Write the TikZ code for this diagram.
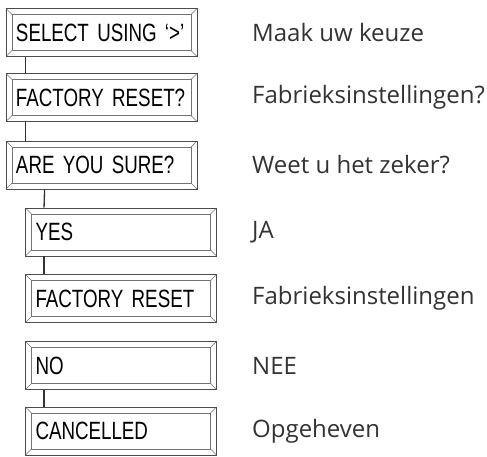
\documentclass[tikz,border=0pt]{standalone}
\usepackage{fontspec}
\newfontfamily\boxfont[FakeStretch=0.75]{Liberation Sans}
\newfontfamily\descfont{Open Sans}
\begin{document}
\begin{tikzpicture}[x=1pt,y=-1pt,
  lcd/.style={draw=black!70, line width=0.9pt, minimum width=191pt, minimum height=48pt,
    inner xsep=10pt, inner ysep=0pt, text width=171pt, align=left,
    font=\boxfont\fontsize{25}{25}\selectfont,
    path picture={
      \coordinate (nw) at (path picture bounding box.north west);
      \coordinate (se) at (path picture bounding box.south east);
      \coordinate (ne) at (path picture bounding box.north east);
      \coordinate (sw) at (path picture bounding box.south west);
      \draw[black!55, line width=0.7pt] ([shift={(6pt,-6pt)}]nw) rectangle ([shift={(-6pt,6pt)}]se);
      \draw[black!55, line width=0.6pt] (nw) -- ([shift={(6pt,-6pt)}]nw)
        (ne) -- ([shift={(-6pt,-6pt)}]ne)
        (sw) -- ([shift={(6pt,6pt)}]sw)
        (se) -- ([shift={(-6pt,6pt)}]se);
    }},
  desc/.style={anchor=west, inner sep=0pt, text=black!80, font=\descfont\fontsize{24}{24}\selectfont},
  link/.style={draw=black!80, line width=1.3pt}]
\useasboundingbox (0,0) rectangle (487,457);
\node[lcd] (b1) at (101.5,32.5) {SELECT USING ‘>’};
\node[lcd] (b2) at (101.5,97.5) {FACTORY RESET?};
\node[lcd] (b3) at (101.5,165) {ARE YOU SURE?};
\node[lcd] (b4) at (121,232) {YES};
\node[lcd] (b5) at (121,298.5) {FACTORY RESET};
\node[lcd] (b6) at (121,365.5) {NO};
\node[lcd] (b7) at (121,431) {CANCELLED};
\draw[link] ([xshift=20pt]b1.south west) -- ([xshift=20pt]b2.north west);
\draw[link] ([xshift=20pt]b2.south west) -- ([xshift=20pt]b3.north west);
\draw[link] ([xshift=39pt]b3.south west) -- ([xshift=19pt]b4.north west);
\draw[link] ([xshift=19pt]b4.south west) -- ([xshift=19pt]b5.north west);
\draw[link] ([xshift=19pt]b6.south west) -- ([xshift=19pt]b7.north west);
\node[desc] (d1) at (252,32.5) {Maak uw keuze};
\node[desc] (d2) at (252,97.5) {Fabrieksinstellingen?};
\node[desc] (d3) at (252,165) {Weet u het zeker?};
\node[desc] (d4) at (252,232) {JA};
\node[desc] (d5) at (252,298.5) {Fabrieksinstellingen};
\node[desc] (d6) at (252,365.5) {NEE};
\node[desc] (d7) at (252,431) {Opgeheven};
\end{tikzpicture}
\end{document}
